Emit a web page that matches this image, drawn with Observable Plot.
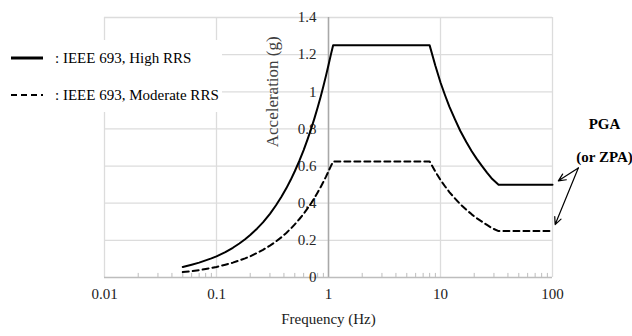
<!DOCTYPE html>
<html><head><meta charset="utf-8">
<script src="https://cdn.jsdelivr.net/npm/d3@7"></script>
<script src="https://cdn.jsdelivr.net/npm/@observablehq/plot@0.6"></script>
<style>
body{margin:0;background:#fff;}
#wrap{position:relative;width:632px;height:336px;font-family:'Liberation Serif','Times New Roman',Times,Tinos,'DejaVu Serif',serif;}
#legend{position:absolute;left:0;top:40px;width:222px;height:72px;background:#fff;}
.item{position:absolute;left:11px;height:20px;display:flex;align-items:center;font-size:15px;color:#000;white-space:nowrap;}
.item svg{margin-right:12px;}
</style></head><body><div id="wrap"><div id="legend"></div></div>
<script>
// Frequency (Hz) sample points
const freq = [0.05, 0.06, 0.07, 0.08, 0.09, 0.1, 0.12, 0.14, 0.16, 0.18, 0.2, 0.23, 0.26, 0.3, 0.34, 0.38, 0.42, 0.46, 0.5, 0.55, 0.6, 0.65, 0.7, 0.75, 0.8, 0.85, 0.9, 0.95, 1.0, 1.05, 1.1,
              8, 9, 10, 11, 12, 13.5, 15, 17, 19, 21, 23.5, 26, 29, 33, 100];
// IEEE 693, High RRS (g)
const highRRS = [0.057, 0.069, 0.080, 0.092, 0.103, 0.114, 0.137, 0.160, 0.183, 0.206, 0.229, 0.263, 0.297, 0.343, 0.389, 0.435, 0.480, 0.526, 0.572, 0.629, 0.686, 0.744, 0.801, 0.858, 0.915, 0.972, 1.03, 1.087, 1.144, 1.20, 1.25,
                 1.25, 1.14, 1.05, 0.98, 0.92, 0.85, 0.79, 0.73, 0.68, 0.64, 0.60, 0.565, 0.53, 0.50, 0.50];
// IEEE 693, Moderate RRS (g)
const moderateRRS = [0.029, 0.034, 0.040, 0.046, 0.051, 0.057, 0.069, 0.080, 0.092, 0.103, 0.114, 0.132, 0.149, 0.172, 0.194, 0.217, 0.240, 0.263, 0.286, 0.315, 0.343, 0.372, 0.400, 0.429, 0.458, 0.486, 0.515, 0.543, 0.572, 0.60, 0.625,
                     0.625, 0.57, 0.525, 0.49, 0.46, 0.425, 0.395, 0.365, 0.34, 0.32, 0.30, 0.283, 0.265, 0.25, 0.25];
const seriesNames = ["IEEE 693, High RRS", "IEEE 693, Moderate RRS"];
const pgaValues = [0.5, 0.25];

const xTicks = [0.01, 0.1, 1, 10, 100];
const xTickLabels = ["0.01", "0.1", "1", "10", "100"];
const yTicks = [0, 0.2, 0.4, 0.6, 0.8, 1, 1.2, 1.4];
const yTickLabels = ["0", "0.2", "0.4", "0.6", "0.8", "1", "1.2", "1.4"];
const xLabel = "Frequency (Hz)";
const yLabel = "Acceleration (g)";
const annotation = ["PGA", "(or ZPA)"];

const minorTicks = [];
for (const dec of [0.01, 0.1, 1, 10]) for (let k = 2; k <= 9; k++) minorTicks.push(+(dec * k).toPrecision(3));

const high = freq.map((f, i) => ({f, a: highRRS[i]}));
const moderate = freq.map((f, i) => ({f, a: moderateRRS[i]}));

const font = "'Liberation Serif','Times New Roman',Times,Tinos,'DejaVu Serif',serif";

const chart = Plot.plot({
  width: 632, height: 336,
  marginLeft: 104, marginRight: 80, marginTop: 17, marginBottom: 59,
  style: {fontFamily: font, background: "transparent", overflow: "visible"},
  x: {type: "log", domain: [0.01, 100], axis: null},
  y: {domain: [0, 1.4], axis: null},
  marks: [
    Plot.gridX(xTicks, {stroke: "#dcdcdc", strokeOpacity: 1, strokeWidth: 1.3}),
    Plot.gridY(yTicks.slice(1), {stroke: "#dcdcdc", strokeOpacity: 1, strokeWidth: 1.3}),
    Plot.ruleX([1], {stroke: "#a8a8a8", strokeWidth: 1.5}),
    Plot.ruleY([0], {stroke: "#bdbdbd", strokeWidth: 1.6}),
    Plot.ruleX(minorTicks, {y1: 0, y2: 0.022, stroke: "#bdbdbd", strokeWidth: 1}),
    Plot.text(xTicks, {x: d => d, frameAnchor: "bottom", dy: 21, text: (d, i) => xTickLabels[i], fontSize: 15, fill: "#1a1a1a"}),
    Plot.text([xLabel], {frameAnchor: "bottom", dy: 46, fontSize: 15, fill: "#1a1a1a"}),
    Plot.text(yTicks, {x: () => 1, y: d => d, text: (d, i) => yTickLabels[i], textAnchor: "end", dx: -12, fontSize: 15, fill: "#262626"}),
    Plot.text([yLabel], {x: () => 1, y: () => 1.0, rotate: -90, dx: -56, fontSize: 17, fill: "#404040"}),
    Plot.line(high, {x: "f", y: "a", stroke: "#000", strokeWidth: 2}),
    Plot.line(moderate, {x: "f", y: "a", stroke: "#000", strokeWidth: 2, strokeDasharray: "6,4"}),
    Plot.text([annotation[0]], {frameAnchor: "top-right", dx: 52, dy: 101, textAnchor: "middle", fontSize: 15, fontWeight: "bold", fill: "#000"}),
    Plot.text([annotation[1]], {frameAnchor: "top-right", dx: 52, dy: 134, textAnchor: "middle", fontSize: 15, fontWeight: "bold", fill: "#000"}),
    Plot.arrow(pgaValues, {x1: () => 170, y1: () => 0.59, x2: () => 100, y2: d => d, insetEnd: 7, stroke: "#000", strokeWidth: 1.2, headLength: 10, headAngle: 50})
  ]
});
const wrap = document.getElementById("wrap");
chart.style.position = "absolute";
chart.style.left = "0";
chart.style.top = "0";
wrap.insertBefore(chart, wrap.firstChild);

const legend = document.getElementById("legend");
const dashes = ["", "6,4"];
const tops = [8, 45];
seriesNames.forEach((name, i) => {
  const item = document.createElement("div");
  item.className = "item";
  item.style.top = tops[i] + "px";
  item.innerHTML = `<svg width="32" height="6"><line x1="0" y1="3" x2="32" y2="3" stroke="#000" stroke-width="${i ? 2 : 3}" ${dashes[i] ? `stroke-dasharray="${dashes[i]}"` : ""}/></svg><span>: ${name}</span>`;
  legend.appendChild(item);
});
</script>
</body></html>
